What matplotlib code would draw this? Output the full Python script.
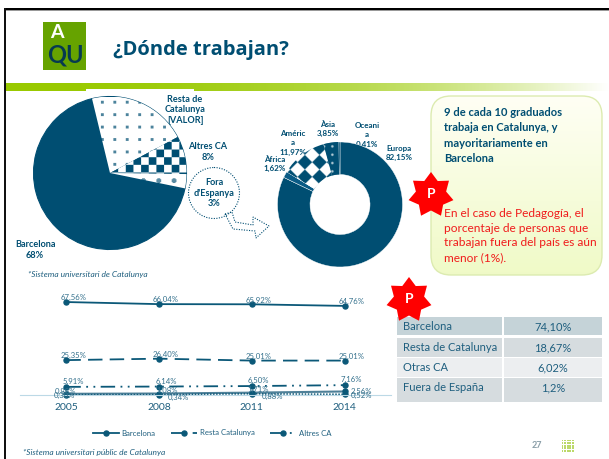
import numpy as np
import matplotlib
matplotlib.use("Agg")
import matplotlib.pyplot as plt
from matplotlib.patches import FancyBboxPatch, Polygon, Circle, Rectangle

# ---------- data ----------
pie_labels = ["Resta de\nCatalunya\n[VALOR]", "Altres CA\n8%", "Fora\nd'Espanya\n3%", "Barcelona\n68%"]
pie_values = [21, 8, 3, 68]
donut_names = ["Europa", "Àfrica", "Améric\na", "Àsia", "Oceani\na"]
donut_values = [82.15, 1.62, 11.97, 3.85, 0.41]
years = ["2005", "2008", "2011", "2014"]
barcelona = [67.56, 66.04, 65.92, 64.76]
resta = [25.35, 26.40, 25.01, 25.01]
altres = [5.91, 6.14, 6.50, 7.16]
fora = [0.88, 1.08, 1.71, 2.56]
nsnc = [0.30, 0.34, 0.88, 0.52]
table_rows = ["Barcelona", "Resta de Catalunya", "Otras CA", "Fuera de España"]
table_vals = ["74,10%", "18,67%", "6,02%", "1,2%"]

W, H = 609, 459
DARK = "#004e72"
TXT = "#1f5f7f"
RED = "#ff0000"
plt.rcParams["font.family"] = ["Lato", "DejaVu Sans"]

fig = plt.figure(figsize=(W / 100, H / 100), dpi=100, facecolor="white")


def px_axes(x0, y0, x1, y1, **kw):
    return fig.add_axes([x0 / W, 1 - y1 / H, (x1 - x0) / W, (y1 - y0) / H], **kw)


bg = px_axes(0, 0, W, H)
bg.set_xlim(0, W)
bg.set_ylim(H, 0)
bg.axis("off")

# frame
bg.add_patch(Rectangle((4, 8), W, 2.2, color="black", zorder=5, lw=0))
bg.add_patch(Rectangle((4, 10.2), W, 1, color="#999999", zorder=5, lw=0))
bg.add_patch(Rectangle((4, 8), 2, H, color="#111111", zorder=5, lw=0))

# green band, fading to white
grad = np.linspace(0, 1, 256).reshape(1, -1, 1)
c0 = np.array([0.60, 0.79, 0.0])[None, None, :]
c1 = np.array([1.0, 1.0, 1.0])[None, None, :]
g = c0 * (1 - grad ** 2.2) + c1 * grad ** 2.2
bg.imshow(g, extent=(6, W, 91, 83), aspect="auto", zorder=1)
bg.set_xlim(0, W)
bg.set_ylim(H, 0)
bg.add_patch(Rectangle((86, 89), 108, 3, color="white", zorder=2, lw=0))

# logo
bg.add_patch(Rectangle((43, 22), 43, 48, color="#66a300", lw=0, zorder=2))
bg.text(57, 33, "A", color="white", fontsize=14, fontweight="bold", ha="center", va="center", zorder=3)
bg.text(65, 55, "QU", color="#063a50", fontsize=17, fontweight="bold", ha="center", va="center", zorder=3)

# title
bg.text(113, 50, "¿Dónde trabajan?", color=DARK, fontsize=14.5, fontweight="bold",
        family=["Open Sans", "DejaVu Sans"], ha="left", va="center")

# ---------- pie ----------
cx, cy, R = 110, 173, 76.5
axp = px_axes(cx - R, cy - R, cx + R, cy + R)
wedges, _ = axp.pie(pie_values, startangle=103.6, counterclock=False, radius=1,
                    colors=["white", "white", "white", DARK],
                    wedgeprops=dict(edgecolor=DARK, linewidth=0.8))
axp.set_xlim(-1, 1)
axp.set_ylim(-1, 1)


def texture(ax, wedge, arr, extent):
    im = ax.imshow(arr, extent=extent, interpolation="bilinear",
                   aspect="auto", zorder=wedge.get_zorder() + 0.1)
    im.set_clip_path(wedge)
    return im


def rgb(mask):
    d = np.array(matplotlib.colors.to_rgb(DARK))
    return mask[..., None] * d + (1 - mask[..., None]) * 1.0


# dots in Resta
n = 160
yy, xx = np.mgrid[0:n, 0:n]
a = ((xx % 13) - 6) ** 2 + ((yy % 13) - 6) ** 2 <= 2
dots = a * 0.7
texture(axp, wedges[0], rgb(dots), (-1, 1, -1, 1))
# checker in Altres
chk = (((xx // 8) + (yy // 8)) % 2).astype(float)
texture(axp, wedges[1], rgb(chk), (-1, 1, -1, 1))
# sparse marks in Fora
sp = (((xx - 130 + 8) % 16 - 8) ** 2 + ((yy - 88 + 8) % 16 - 8) ** 2 <= 7) * 0.65
texture(axp, wedges[2], rgb(sp), (-1, 1, -1, 1))
axp.set_xlim(-1, 1)
axp.set_ylim(-1, 1)
axp.axis("off")

ptxt = dict(color=DARK, fontsize=6.6, fontweight="bold", ha="center", va="center", linespacing=1.25)
bg.text(185, 110, pie_labels[0], **ptxt)
bg.text(208, 152, pie_labels[1], **ptxt)
bg.text(214, 193, pie_labels[2], zorder=4, **ptxt)
bg.text(35, 250, pie_labels[3], **ptxt)
bg.text(28, 274, "*Sistema universitari de Catalunya", color=TXT, fontsize=6, style="italic", va="center")

# dotted callout and block arrow
bg.add_patch(Circle((214, 193), 25.5, fill=False, ec=DARK, lw=0.8, ls=(0, (1, 1.3))))
arrow = [(225, 214), (232, 212), (235, 222), (253, 225), (253, 217), (269, 226),
         (256, 238), (255, 231), (233, 229)]
bg.add_patch(Polygon(arrow, closed=True, fill=False, ec=DARK, lw=0.8, ls=(0, (1, 1.3))))

# ---------- donut ----------
dx, dy, DR = 340, 204.5, 62.5
axd = px_axes(dx - DR, dy - DR, dx + DR, dy + DR)
dw, _ = axd.pie(donut_values, startangle=90, counterclock=False, radius=1,
                colors=[DARK, "#0a5b85", "white", DARK, DARK],
                wedgeprops=dict(width=0.52, edgecolor="white", linewidth=0.3))
axd.set_xlim(-1, 1)
axd.set_ylim(-1, 1)
m = 300
yy2, xx2 = np.mgrid[0:m, 0:m]
s = 24.6
u = ((xx2 - 64) + (yy2 - 48)) / np.sqrt(2)
v = ((xx2 - 64) - (yy2 - 48)) / np.sqrt(2)
diam = (np.floor(u / s + 0.5).astype(int) + np.floor(v / s + 0.5).astype(int)) % 2 == 0
texture(axd, dw[2], rgb(diam.astype(float)), (-1, 1, -1, 1))
yd = 1 - (((xx2 % 20) - 10) ** 2 + ((yy2 % 20) - 10) ** 2 <= 9) * 0.7
texture(axd, dw[3], rgb(yd), (-1, 1, -1, 1))
axd.set_xlim(-1, 1)
axd.set_ylim(-1, 1)
axd.axis("off")

dtxt = dict(color=DARK, fontsize=5.8, fontweight="bold", ha="center", va="center", linespacing=1.35)
bg.text(399, 153, f"{donut_names[0]}\n82,15%", **dtxt)
bg.text(275, 164, f"{donut_names[1]}\n1,62%", **dtxt)
bg.text(293, 143, f"{donut_names[2]}\n11,97%", zorder=4, **dtxt)
bg.text(328, 129, f"{donut_names[3]}\n3,85%", **dtxt)
bg.text(367, 135, f"{donut_names[4]}\n0,41%", **dtxt)

# ---------- text box ----------
gb = px_axes(430, 95, 603, 276)
grad2 = np.linspace(0, 1, 200).reshape(-1, 1, 1)
top = np.array([1.0, 1.0, 0.96])[None, None, :]
bot = np.array([0.94, 0.98, 0.78])[None, None, :]
im = gb.imshow(top * (1 - grad2) + bot * grad2, extent=(430, 603, 276, 95), aspect="auto")
gb.set_xlim(430, 603)
gb.set_ylim(276, 95)
gb.axis("off")
box = FancyBboxPatch((431, 96), 171, 179, boxstyle="round,pad=0,rounding_size=20",
                     fc="none", ec="#dcebb0", lw=1, transform=gb.transData, clip_on=False)
gb.add_patch(box)
im.set_clip_path(box)
bg2 = px_axes(0, 0, W, H)
bg2.set_xlim(0, W)
bg2.set_ylim(H, 0)
bg2.axis("off")
bg2.patch.set_alpha(0)
bg2.text(444, 135.5, "9 de cada 10 graduados\ntrabaja en Catalunya, y\nmayoritariamente en\nBarcelona",
         color=DARK, fontsize=8, fontweight="bold", va="center", ha="left", linespacing=1.5)
bg2.text(444, 235.5, "En el caso de Pedagogía, el\nporcentaje de personas que\ntrabajan fuera del país es aún\nmenor (1%).",
         color="#f01c1c", fontsize=8.6, va="center", ha="left", linespacing=1.4)


def star(x, y, r_o, r_i, n=7):
    ang = np.pi / 2 + np.arange(2 * n) * np.pi / n
    rad = np.where(np.arange(2 * n) % 2 == 0, r_o, r_i)
    pts = np.c_[x + rad * np.cos(ang), y - rad * np.sin(ang)]
    bg2.add_patch(Polygon(pts, closed=True, fc=RED, ec="none", zorder=6))
    bg2.text(x, y - 1, "P", color="white", fontsize=10, fontweight="bold", ha="center", va="center", zorder=7)


star(431, 195, 23, 15.5)
star(409, 300, 23, 15.5)

# ---------- line chart ----------
y_bottom, y_top = 395, 288
axl = px_axes(20, y_top, 391, y_bottom)
axl.patch.set_alpha(0)
axl.set_xlim(-0.5, 3.5)
axl.set_ylim(0, (y_bottom - y_top) / 1.376)
x = np.arange(4)
lc = "#0b5878"
mk = dict(marker="o", markersize=3.6, color=lc, clip_on=False)
l1, = axl.plot(x, barcelona, lw=1.3, label="Barcelona", **mk)
l2, = axl.plot(x, resta, lw=1.3, ls=(0, (8, 4)), label="Resta Catalunya", **mk)
l3, = axl.plot(x, altres, lw=1.3, ls=(0, (8, 3, 1, 3, 1, 3)), label="Altres CA", **mk)
axl.plot(x, fora, lw=1.5, color="#4f8098", marker="o", markersize=3.6, mfc=lc, mec=lc, clip_on=False)
axl.plot(x, nsnc, lw=1.1, ls=(0, (1, 1)), **mk)
for sp_name in ("top", "left", "right"):
    axl.spines[sp_name].set_visible(False)
axl.spines["bottom"].set_color("#bcd9e6")
axl.spines["bottom"].set_linewidth(0.8)
axl.set_yticks([])
axl.set_xticks(x, years)
axl.tick_params(axis="x", length=0, pad=6, labelsize=7.5, labelcolor=TXT)


def fmt(v):
    return f"{v:.2f}%".replace(".", ",")


ltxt = dict(color="#33708c", fontsize=5.6, ha="center", va="center", clip_on=False)
for s_, dy_ in ((barcelona, 3.0), (resta, 3.0), (altres, 3.8)):
    for i, v in enumerate(s_):
        axl.annotate(fmt(v), (i, v), xytext=(5, dy_), textcoords="offset points", **ltxt)
for i, (v, off) in enumerate(zip(fora, [(-0.5, 1.5), (6, 2.5), (4.5, 2.6), (12, 0)])):
    axl.annotate(fmt(v), (i, v), xytext=off, textcoords="offset points", **ltxt)
for i, (v, off) in enumerate(zip(nsnc, [(-1.7, -0.8), (14, -2.3), (15, -2.1), (12, -0.5)])):
    axl.annotate(fmt(v), (i, v), xytext=off, textcoords="offset points", **ltxt)

leg = fig.legend(handles=[l1, l2, l3], loc="center", bbox_to_anchor=(212 / W, 1 - 433 / H),
                 ncol=3, frameon=False, fontsize=5.6, labelcolor=TXT, handlelength=3.4,
                 columnspacing=2.0, handletextpad=0.3)

bg2.text(23, 453, "*Sistema universitari público de Catalunya".replace("público", "públic"),
         color=TXT, fontsize=6, style="italic", va="center")

# ---------- table ----------
row_y = [(317, 335), (338, 357), (358, 377), (378, 402)]
row_c = ["#c5d3d8", "#d6dcdf", "#eceef0", "#d6dcdf"]
for (y0, y1), c, name, val in zip(row_y, row_c, table_rows, table_vals):
    bg2.add_patch(Rectangle((397, y0), 105, y1 - y0, fc=c, ec="none"))
    bg2.add_patch(Rectangle((504, y0), 98, y1 - y0, fc=c, ec="none"))
    bg2.text(403, y0 + 9.5, name, color=TXT, fontsize=8, va="center")
    bg2.text(553, y0 + 9.5, val, color=TXT, fontsize=8, va="center", ha="center")

# page number and grid icon
bg2.text(537, 446, "27", color="#8a9ea8", fontsize=6.5, fontweight="bold", ha="center", va="center")
for i in range(5):
    for j in range(5):
        bg2.add_patch(Rectangle((561.5 + i * 2.6, 439.5 + j * 2.6), 1.9, 1.9, fc="#bcd96a", ec="none"))

fig.savefig("out.png", dpi=100)
